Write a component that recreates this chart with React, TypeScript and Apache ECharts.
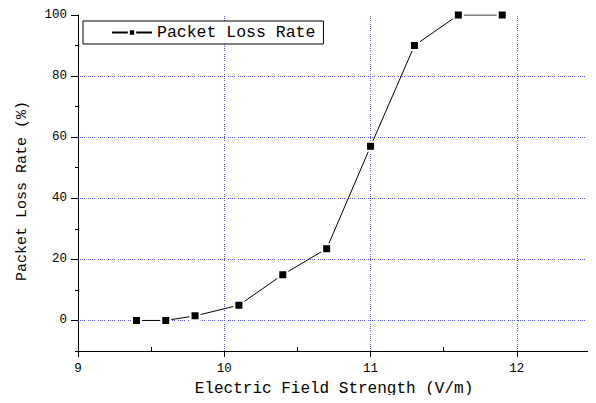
import React, { useEffect, useRef } from "react";
import * as echarts from "echarts";

const seriesName = "Packet Loss Rate";
const fieldStrength = [9.4, 9.6, 9.8, 10.1, 10.4, 10.7, 11.0, 11.3, 11.6, 11.9];
const lossRate = [0, 0, 1.5, 5, 15, 23.5, 57, 90, 100, 100];
const xMajorTicks = [9, 10, 11, 12];
const xMinorTicks = [9.5, 10.5, 11.5];
const yMajorTicks = [0, 20, 40, 60, 80, 100];
const yMinorTicks = [-10, 10, 30, 50, 70, 90];
const xGridValues = [10, 11, 12];
const yGridValues = [0, 20, 40, 60, 80];

const FONT = "Liberation Mono";

export default function App() {
  const ref = useRef<HTMLDivElement>(null);
  useEffect(() => {
    if (!ref.current) return;
    const chart = echarts.init(ref.current, null, { renderer: "svg" });
    const gridLine = { color: "#3a3ad8", type: [1, 1, 1, 1, 1, 1, 1, 3] as any, width: 1, opacity: 0.85 };
    const data = fieldStrength.map((x, i) => [x, lossRate[i]]);
    chart.setOption({
      animation: false,
      backgroundColor: "#fff",
      grid: { left: 78, right: 6, top: 15, bottom: 52, containLabel: false },
      legend: {
        left: 83,
        top: 21,
        orient: "horizontal",
        backgroundColor: "#fff",
        borderColor: "#000",
        borderWidth: 1,
        borderRadius: 0,
        padding: [3, 8, 3, 28],
        itemWidth: 40,
        itemHeight: 8,
        itemGap: 6,
        textStyle: { fontFamily: FONT, fontSize: 16.5, color: "#000" },
        data: [seriesName],
      },
      xAxis: [
        {
          type: "value",
          min: 9,
          max: 12.5,
          interval: 0.5,
          position: "bottom",
          name: "Electric Field Strength (V/m)",
          nameLocation: "middle",
          nameGap: 30,
          nameTextStyle: { fontFamily: FONT, fontSize: 16, color: "#000" },
          axisLine: { onZero: false, lineStyle: { color: "#000", width: 1 } },
          axisTick: { customValues: xMajorTicks, length: 6, inside: false, lineStyle: { color: "#000" } },
          axisLabel: { customValues: xMajorTicks, fontFamily: FONT, fontSize: 12.5, color: "#000", margin: 11 },
          splitLine: { show: false },
        },
        {
          type: "value",
          min: 9,
          max: 12.5,
          interval: 0.5,
          position: "bottom",
          axisLine: { show: false, onZero: false },
          axisTick: { customValues: xMinorTicks, length: 4, inside: true, lineStyle: { color: "#000" } },
          axisLabel: { show: false },
          splitLine: { show: false },
        },
      ],
      yAxis: [
        {
          type: "value",
          min: -10,
          max: 100,
          interval: 10,
          position: "left",
          name: "Packet Loss Rate (%)",
          nameLocation: "middle",
          nameGap: 48,
          nameRotate: 90,
          nameTextStyle: { fontFamily: FONT, fontSize: 15, color: "#000", padding: [0, 16, 0, 0] },
          axisLine: { show: true, onZero: false, lineStyle: { color: "#000", width: 1 } },
          axisTick: { show: true, customValues: yMajorTicks, length: 7, lineStyle: { color: "#000" } },
          axisLabel: { customValues: yMajorTicks, fontFamily: FONT, fontSize: 12.5, color: "#000", margin: 11 },
          splitLine: { show: false },
        },
        {
          type: "value",
          min: -10,
          max: 100,
          interval: 10,
          position: "left",
          axisLine: { show: false, onZero: false },
          axisTick: { show: true, customValues: yMinorTicks, length: 3, lineStyle: { color: "#000" } },
          axisLabel: { show: false },
          splitLine: { show: false },
        },
      ],
      series: [
        {
          name: seriesName,
          type: "line",
          xAxisIndex: 0,
          yAxisIndex: 0,
          data,
          symbol: "rect",
          symbolSize: 9,
          lineStyle: { color: "#000", width: 1 },
          itemStyle: { color: "#000", borderColor: "#fff", borderWidth: 2 },
          z: 5,
          markLine: {
            silent: true,
            symbol: "none",
            label: { show: false },
            lineStyle: gridLine,
            z: 1,
            data: [
              ...yGridValues.map((v) => ({ yAxis: v })),
              ...xGridValues.map((v) => ({ xAxis: v })),
            ],
          },
        },
      ],
    });
    return () => chart.dispose();
  }, []);
  return <div ref={ref} style={{ width: 596, height: 403, margin: -8 }} />;
}
